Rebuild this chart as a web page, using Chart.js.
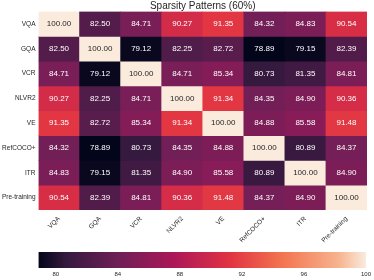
<!DOCTYPE html>
<html>
<head>
<meta charset="utf-8">
<script src="https://cdn.jsdelivr.net/npm/chart.js@4"></script>
<style>
  html, body { margin: 0; padding: 0; background: #fff; }
  #wrap { position: relative; width: 374px; height: 280px; }
  #heat { position: absolute; left: 0; top: 0; width: 374px; height: 280px; }
  #bar { position: absolute; left: 0; top: 245px; width: 374px; height: 35px; }
</style>
</head>
<body>
<div id="wrap">
  <div id="heat"><canvas id="heatChart"></canvas></div>
  <div id="bar"><canvas id="barChart"></canvas></div>
</div>
<script>
var title = 'Sparsity Patterns (60%)';
var tasks = ['VQA', 'GQA', 'VCR', 'NLVR2', 'VE', 'RefCOCO+', 'ITR', 'Pre-training'];

var rowVQA = [100.00, 82.50, 84.71, 90.27, 91.35, 84.32, 84.83, 90.54];
var rowGQA = [82.50, 100.00, 79.12, 82.25, 82.72, 78.89, 79.15, 82.39];
var rowVCR = [84.71, 79.12, 100.00, 84.71, 85.34, 80.73, 81.35, 84.81];
var rowNLVR2 = [90.27, 82.25, 84.71, 100.00, 91.34, 84.35, 84.90, 90.36];
var rowVE = [91.35, 82.72, 85.34, 91.34, 100.00, 84.88, 85.58, 91.48];
var rowRef = [84.32, 78.89, 80.73, 84.35, 84.88, 100.00, 80.89, 84.37];
var rowITR = [84.83, 79.15, 81.35, 84.90, 85.58, 80.89, 100.00, 84.90];
var rowPre = [90.54, 82.39, 84.81, 90.36, 91.48, 84.37, 84.90, 100.00];
var rows = [rowVQA, rowGQA, rowVCR, rowNLVR2, rowVE, rowRef, rowITR, rowPre];

var vmin = 78.89;
var vmax = 100;
var colorbarTicks = [80, 84, 88, 92, 96, 100];

var FONT = '"Liberation Sans", Arial, sans-serif';
var TEXT = '#262626';

// rocket colormap, approximated by a few stops
var stops = [
    [0.0, [3, 5, 26]],
    [0.0833, [53, 25, 62]],
    [0.25, [112, 31, 87]],
    [0.4167, [173, 23, 89]],
    [0.5833, [225, 51, 66]],
    [0.75, [243, 118, 81]],
    [0.9167, [246, 180, 143]],
    [1.0, [250, 235, 221]]
];

function rocket(t) {
    t = Math.max(0, Math.min(1, t));
    for (var i = 1; i < stops.length; i++) {
        if (t <= stops[i][0]) {
            var a = stops[i - 1], b = stops[i];
            var f = (t - a[0]) / (b[0] - a[0]);
            var c = [0, 1, 2].map(function(k) { return Math.round(a[1][k] + (b[1][k] - a[1][k]) * f); });
            return 'rgb(' + c.join(',') + ')';
        }
    }
    return 'rgb(250,235,221)';
}

function colorFor(v) {
    return rocket((v - vmin) / (vmax - vmin));
}

var datasets = rows.map(function(r, i) {
    return {
        label: tasks[i],
        data: r.map(function() { return 1; }),
        values: r,
        backgroundColor: r.map(colorFor),
        borderWidth: 0,
        barPercentage: 1,
        categoryPercentage: 1
    };
});

var cellText = {
    id: 'cellText',
    afterDatasetsDraw: function(chart) {
        var ctx = chart.ctx;
        ctx.save();
        ctx.font = '8px ' + FONT;
        ctx.textAlign = 'center';
        ctx.textBaseline = 'middle';
        chart.data.datasets.forEach(function(ds, i) {
            chart.getDatasetMeta(i).data.forEach(function(el, j) {
                var v = ds.values[j];
                ctx.fillStyle = v > 95 ? TEXT : '#ffffff';
                ctx.fillText(v.toFixed(2), el.x, (el.y + el.base) / 2);
            });
        });
        ctx.restore();
    }
};

var heatTitle = {
    id: 'heatTitle',
    afterDraw: function(chart) {
        var a = chart.chartArea;
        var ctx = chart.ctx;
        ctx.save();
        ctx.font = '10px ' + FONT;
        ctx.fillStyle = TEXT;
        ctx.textAlign = 'center';
        ctx.textBaseline = 'middle';
        ctx.fillText(title, (a.left + a.right) / 2, 6);
        ctx.restore();
    }
};

new Chart(document.getElementById('heatChart').getContext('2d'), {
    type: 'bar',
    data: { labels: tasks, datasets: datasets },
    plugins: [cellText, heatTitle],
    options: {
        responsive: true,
        maintainAspectRatio: false,
        animation: false,
        layout: { padding: { top: 11.5, right: 7, left: 0, bottom: 0 } },
        plugins: { legend: { display: false }, tooltip: { enabled: false } },
        scales: {
            x: {
                stacked: true,
                grid: { display: false, drawTicks: false },
                border: { display: false },
                ticks: {
                    maxRotation: 45, minRotation: 45, padding: 5,
                    autoSkip: false,
                    color: TEXT, font: { family: FONT, size: 6.5 }
                },
                afterFit: function(s) { s.height = 70; }
            },
            y: {
                stacked: true,
                min: 0, max: 8,
                reverse: true,
                grid: { display: false, drawTicks: false },
                border: { display: false },
                afterBuildTicks: function(s) {
                    s.ticks = tasks.map(function(t, i) { return { value: i + 0.5 }; });
                },
                ticks: {
                    padding: 3,
                    autoSkip: false,
                    color: TEXT,
                    font: { family: FONT, size: 6.5 },
                    callback: function(v, i) { return tasks[i]; }
                },
                afterFit: function(s) { s.width = 38.5; }
            }
        }
    }
});

new Chart(document.getElementById('barChart').getContext('2d'), {
    type: 'bar',
    data: {
        labels: [''],
        datasets: [{
            data: [[vmin, vmax]],
            borderWidth: 0,
            barPercentage: 1,
            categoryPercentage: 1,
            backgroundColor: function(c) {
                var a = c.chart.chartArea;
                if (!a) return '#000';
                var g = c.chart.ctx.createLinearGradient(a.left, 0, a.right, 0);
                stops.forEach(function(s) { g.addColorStop(s[0], 'rgb(' + s[1].join(',') + ')'); });
                return g;
            }
        }]
    },
    options: {
        indexAxis: 'y',
        responsive: true,
        maintainAspectRatio: false,
        animation: false,
        layout: { padding: { top: 7, right: 7, left: 38.5, bottom: 0 } },
        plugins: { legend: { display: false }, tooltip: { enabled: false } },
        scales: {
            x: {
                type: 'linear',
                min: vmin, max: vmax,
                grid: { display: false, drawTicks: false },
                border: { display: false },
                afterBuildTicks: function(s) {
                    s.ticks = colorbarTicks.map(function(v) { return { value: v }; });
                },
                ticks: { padding: 3, color: TEXT, font: { family: FONT, size: 6 }, maxRotation: 0, autoSkip: false },
                afterFit: function(s) { s.height = 12; }
            },
            y: { display: false }
        }
    }
});
</script>
</body>
</html>
